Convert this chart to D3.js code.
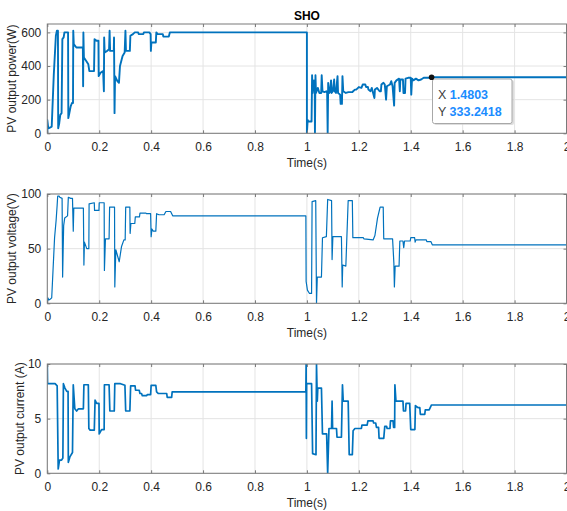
<!DOCTYPE html>
<html><head><meta charset="utf-8">
<script src="https://cdn.jsdelivr.net/npm/d3@7"></script>
<style>
html,body{margin:0;padding:0;background:#fff;}
svg{display:block;font-family:"Liberation Sans",Arial,Helvetica,sans-serif;}
</style></head>
<body><svg id="c" width="567" height="511"></svg>
<script>
// ---------- data ----------
const xTicks = [0,0.2,0.4,0.6,0.8,1,1.2,1.4,1.6,1.8,2];
const xTickLabels = ["0","0.2","0.4","0.6","0.8","1","1.2","1.4","1.6","1.8","2"];
const powerTicks = [0,200,400,600];
const voltageTicks = [0,50,100];
const currentTicks = [0,5,10];
const chartTitle = "SHO";
const xLabel = "Time(s)";
const yLabels = ["PV output power(W)","PV output voltage(V)","PV output current (A)"];
const tipX = 1.4803, tipY = 333.2418;

// [time (s), power (W)]
const powerData = [[0,0],[0,80],[0.003,40],[0.006,30],[0.017,40],[0.025,350],[0.033,580],[0.037,610],[0.041,610],[0.042,30],[0.046,60],[0.05,110],[0.055,120],[0.058,560],[0.063,570],[0.066,600],[0.08,600],[0.081,90],[0.085,120],[0.09,160],[0.095,180],[0.099,180],[0.1,610],[0.102,530],[0.107,520],[0.112,510],[0.137,510],[0.138,280],[0.139,600],[0.141,450],[0.15,430],[0.158,410],[0.162,370],[0.18,370],[0.182,560],[0.19,550],[0.197,550],[0.198,340],[0.205,360],[0.215,370],[0.218,250],[0.219,570],[0.221,480],[0.23,490],[0.238,500],[0.24,610],[0.242,490],[0.256,490],[0.257,570],[0.259,120],[0.261,340],[0.27,310],[0.276,300],[0.28,400],[0.29,460],[0.298,480],[0.301,610],[0.303,490],[0.318,490],[0.32,580],[0.33,590],[0.337,600],[0.35,600],[0.352,590],[0.37,590],[0.372,600],[0.393,600],[0.398,590],[0.399,490],[0.401,540],[0.418,540],[0.42,600],[0.425,590],[0.445,590],[0.447,575],[0.468,575],[0.472,600],[1.0,600],[1.0,0],[1.003,80],[1.006,70],[1.018,70],[1.02,345],[1.022,240],[1.027,315],[1.03,310],[1.031,0],[1.033,345],[1.035,240],[1.042,270],[1.048,240],[1.055,240],[1.057,345],[1.06,250],[1.068,245],[1.075,250],[1.078,240],[1.08,0],[1.082,300],[1.086,240],[1.09,250],[1.093,315],[1.095,240],[1.1,250],[1.105,320],[1.107,250],[1.112,240],[1.118,340],[1.12,240],[1.128,230],[1.13,175],[1.135,175],[1.137,340],[1.14,250],[1.15,240],[1.16,245],[1.175,245],[1.178,250],[1.185,260],[1.19,260],[1.2,275],[1.21,270],[1.215,290],[1.225,290],[1.228,275],[1.235,275],[1.237,260],[1.245,250],[1.25,270],[1.26,210],[1.262,260],[1.27,270],[1.28,250],[1.285,250],[1.287,290],[1.295,300],[1.3,290],[1.305,200],[1.308,280],[1.32,290],[1.325,310],[1.33,280],[1.336,165],[1.338,300],[1.345,315],[1.355,325],[1.358,250],[1.36,320],[1.37,320],[1.372,240],[1.378,240],[1.38,325],[1.39,330],[1.4,330],[1.402,230],[1.405,325],[1.41,315],[1.42,325],[1.43,315],[1.44,320],[1.45,330],[1.47,330],[1.4803,333.2418],[2,333.2418]];

// [time (s), voltage (V)]
const voltageData = [[0,0],[0.002,5],[0.006,3],[0.012,4],[0.017,5],[0.022,30],[0.028,60],[0.034,76],[0.038,90],[0.04,98],[0.046,98],[0.048,97],[0.057,96],[0.059,24],[0.063,71],[0.067,78],[0.078,80],[0.081,97],[0.09,96],[0.097,96],[0.1,66],[0.102,87],[0.139,87],[0.141,35],[0.143,56],[0.152,50],[0.16,50],[0.161,91],[0.181,92],[0.182,85],[0.199,85],[0.2,92],[0.219,92],[0.22,30],[0.224,59],[0.238,59],[0.24,88],[0.259,88],[0.26,15],[0.264,49],[0.277,38],[0.286,52],[0.295,58],[0.3,58],[0.302,88],[0.318,88],[0.319,64],[0.322,73],[0.337,73],[0.339,79],[0.355,79],[0.357,82.5],[0.38,82.5],[0.382,82],[0.398,82],[0.4,61],[0.403,68],[0.408,66],[0.418,66],[0.421,82],[0.43,81],[0.45,81],[0.457,84],[0.475,84],[0.483,80],[0.996,80],[0.997,20],[1.002,12],[1.01,9],[1.018,9],[1.02,93],[1.034,94],[1.037,0],[1.04,24],[1.056,24],[1.06,60],[1.075,61],[1.08,95],[1.095,94],[1.097,40],[1.1,61],[1.133,61],[1.136,15],[1.138,35],[1.15,34],[1.159,94],[1.175,94],[1.177,60],[1.217,60],[1.22,59],[1.255,58],[1.262,62],[1.272,78],[1.282,88],[1.294,88],[1.296,59],[1.33,59],[1.335,37],[1.337,15],[1.34,34],[1.355,34],[1.358,57],[1.37,57],[1.373,51],[1.376,57],[1.398,57],[1.4,60],[1.415,60],[1.417,56],[1.42,58],[1.46,58],[1.462,56.4],[1.478,56.4],[1.483,53.5],[2,53.5]];

// [time (s), current (A)]
const currentData = [[0,10],[0.001,8.2],[0.03,8.2],[0.038,8.0],[0.042,0.4],[0.047,1.2],[0.055,1.2],[0.06,1.4],[0.062,8.2],[0.068,7.8],[0.075,7.5],[0.08,7.5],[0.081,1.0],[0.087,1.5],[0.097,1.9],[0.1,8.1],[0.106,5.9],[0.113,5.7],[0.12,5.9],[0.139,5.9],[0.141,8.1],[0.158,8.1],[0.16,4.1],[0.165,3.95],[0.181,3.95],[0.184,6.7],[0.19,6.4],[0.199,6.4],[0.2,3.6],[0.209,4.0],[0.219,4.0],[0.22,8.1],[0.238,8.1],[0.241,5.7],[0.258,5.7],[0.26,8.2],[0.282,8.2],[0.299,8.05],[0.302,5.7],[0.318,5.7],[0.321,8.0],[0.338,8.0],[0.34,7.6],[0.354,7.6],[0.357,7.3],[0.363,7.3],[0.366,7.1],[0.383,7.1],[0.385,7.2],[0.398,7.2],[0.4,8.05],[0.418,8.05],[0.421,7.45],[0.428,7.3],[0.44,7.3],[0.46,7.3],[0.462,6.95],[0.479,6.95],[0.481,7.45],[0.996,7.45],[0.997,10],[0.998,3.2],[0.999,8.2],[1.018,8.2],[1.022,1.8],[1.035,1.7],[1.037,10],[1.04,6.6],[1.042,7.8],[1.056,7.8],[1.06,3.6],[1.076,3.6],[1.08,0],[1.085,4.1],[1.095,4.1],[1.097,6.6],[1.099,4.1],[1.114,4.1],[1.116,3.3],[1.133,3.3],[1.137,8.1],[1.14,6.6],[1.159,6.6],[1.163,1.7],[1.175,1.7],[1.178,3.9],[1.185,4.1],[1.21,4.1],[1.212,4.4],[1.232,4.4],[1.235,4.8],[1.255,4.8],[1.257,4.6],[1.265,4.6],[1.268,4.2],[1.276,4.2],[1.278,3.2],[1.296,3.2],[1.3,4.3],[1.307,4.3],[1.309,4.1],[1.32,4.1],[1.322,4.8],[1.332,4.8],[1.334,4.2],[1.338,4.2],[1.339,8.1],[1.343,6.6],[1.37,6.6],[1.372,5.7],[1.38,5.7],[1.382,6.4],[1.396,6.4],[1.4,4.0],[1.416,4.0],[1.418,6.2],[1.428,6.0],[1.435,6.0],[1.437,5.4],[1.454,5.4],[1.456,5.8],[1.471,5.8],[1.48,6.25],[2,6.25]];

// ---------- drawing ----------
const svg = d3.select("#c");
const blue = "#0072BD";
const xL = 47.3, xR = 566.5;
const x = d3.scaleLinear().domain([0,2]).range([xL,xR]);

const panels = [
  {top:24, bottom:133.3, data:powerData, domain:[0,650], ticks:powerTicks, label:yLabels[0], labelX:16, lw:1.9},
  {top:194, bottom:303.3, data:voltageData, domain:[0,100], ticks:voltageTicks, label:yLabels[1], labelX:16, lw:1.2},
  {top:364, bottom:473.3, data:currentData, domain:[0,10], ticks:currentTicks, label:yLabels[2], labelX:24, lw:1.7}
];

panels.forEach((p,i)=>{
  const y = d3.scaleLinear().domain(p.domain).range([p.bottom,p.top]);
  p.y = y;
  const g = svg.append("g");
  // grid
  g.selectAll(".gx").data(xTicks).enter().append("line")
    .attr("x1",d=>x(d)).attr("x2",d=>x(d)).attr("y1",p.top).attr("y2",p.bottom)
    .attr("stroke","#e4e4e4").attr("stroke-width",1);
  g.selectAll(".gy").data(p.ticks).enter().append("line")
    .attr("x1",xL).attr("x2",xR).attr("y1",d=>y(d)).attr("y2",d=>y(d))
    .attr("stroke","#e4e4e4").attr("stroke-width",1);
  // clip
  svg.append("clipPath").attr("id","clip"+i).append("rect")
    .attr("x",xL).attr("y",p.top).attr("width",xR-xL).attr("height",p.bottom-p.top);
  const line = d3.line().x(d=>x(d[0])).y(d=>y(d[1]));
  g.append("path").datum(p.data).attr("d",line).attr("fill","none")
    .attr("stroke",blue).attr("stroke-width",p.lw).attr("stroke-linejoin","round")
    .attr("clip-path","url(#clip"+i+")");
  // box
  g.append("rect").attr("x",xL).attr("y",p.top).attr("width",xR-xL).attr("height",p.bottom-p.top)
    .attr("fill","none").attr("stroke","#7a7a7a").attr("stroke-width",1);
  // axes with inward ticks
  const xa = d3.axisBottom(x).tickValues(xTicks).tickFormat((d,k)=>xTickLabels[k]).tickSizeInner(-3).tickSizeOuter(0).tickPadding(9);
  const ax = g.append("g").attr("transform",`translate(0,${p.bottom})`).call(xa);
  ax.select(".domain").remove();
  ax.selectAll("line").attr("stroke","#7a7a7a");
  ax.selectAll("text").attr("fill","#262626").style("font-size","12px");
  const xt = d3.axisTop(x).tickValues(xTicks).tickFormat("").tickSizeInner(-3).tickSizeOuter(0);
  const axt = g.append("g").attr("transform",`translate(0,${p.top})`).call(xt);
  axt.select(".domain").remove(); axt.selectAll("line").attr("stroke","#7a7a7a");
  const ya = d3.axisLeft(y).tickValues(p.ticks).tickSizeInner(-3).tickSizeOuter(0).tickPadding(6);
  const ay = g.append("g").attr("transform",`translate(${xL},0)`).call(ya);
  ay.select(".domain").remove();
  ay.selectAll("line").attr("stroke","#7a7a7a");
  ay.selectAll("text").attr("fill","#262626").style("font-size","12px");
  const yr = d3.axisRight(y).tickValues(p.ticks).tickFormat("").tickSizeInner(-3).tickSizeOuter(0);
  const ayr = g.append("g").attr("transform",`translate(${xR},0)`).call(yr);
  ayr.select(".domain").remove(); ayr.selectAll("line").attr("stroke","#7a7a7a");
  // labels
  g.append("text").attr("x",(xL+xR)/2).attr("y",p.bottom+34).attr("text-anchor","middle")
    .attr("fill","#262626").style("font-size","12px").text(xLabel);
  g.append("text").attr("transform",`translate(${p.labelX},${(p.top+p.bottom)/2}) rotate(-90)`)
    .attr("text-anchor","middle").attr("fill","#262626").style("font-size","12px").text(p.label);
});

// title
svg.append("text").attr("x",(xL+xR)/2).attr("y",19.5).attr("text-anchor","middle")
  .attr("fill","#000").style("font-size","12px").style("font-weight","bold").text(chartTitle);

// datatip
const p0 = panels[0];
const tx = x(tipX), ty = p0.y(tipY);
const tip = svg.append("g");
tip.append("rect").attr("x",434).attr("y",80).attr("width",80).attr("height",45).attr("rx",2)
  .attr("fill","#c8c8c8").attr("opacity",0.6);
tip.append("rect").attr("x",432.5).attr("y",79).attr("width",79.5).attr("height",44.5).attr("rx",2)
  .attr("fill","#fff").attr("stroke","#a8a8a8").attr("stroke-width",1);
tip.append("circle").attr("cx",tx).attr("cy",ty).attr("r",2.8).attr("fill","#111");
const t1 = tip.append("text").attr("x",438).attr("y",98.5).style("font-size","12.5px");
t1.append("tspan").attr("fill","#404040").text("X ");
t1.append("tspan").attr("fill","#1a8cff").style("font-weight","bold").text(tipX.toFixed(4));
const t2 = tip.append("text").attr("x",438).attr("y",115.5).style("font-size","12.5px");
t2.append("tspan").attr("fill","#404040").text("Y ");
t2.append("tspan").attr("fill","#1a8cff").style("font-weight","bold").text(tipY.toFixed(4));
</script></body></html>
